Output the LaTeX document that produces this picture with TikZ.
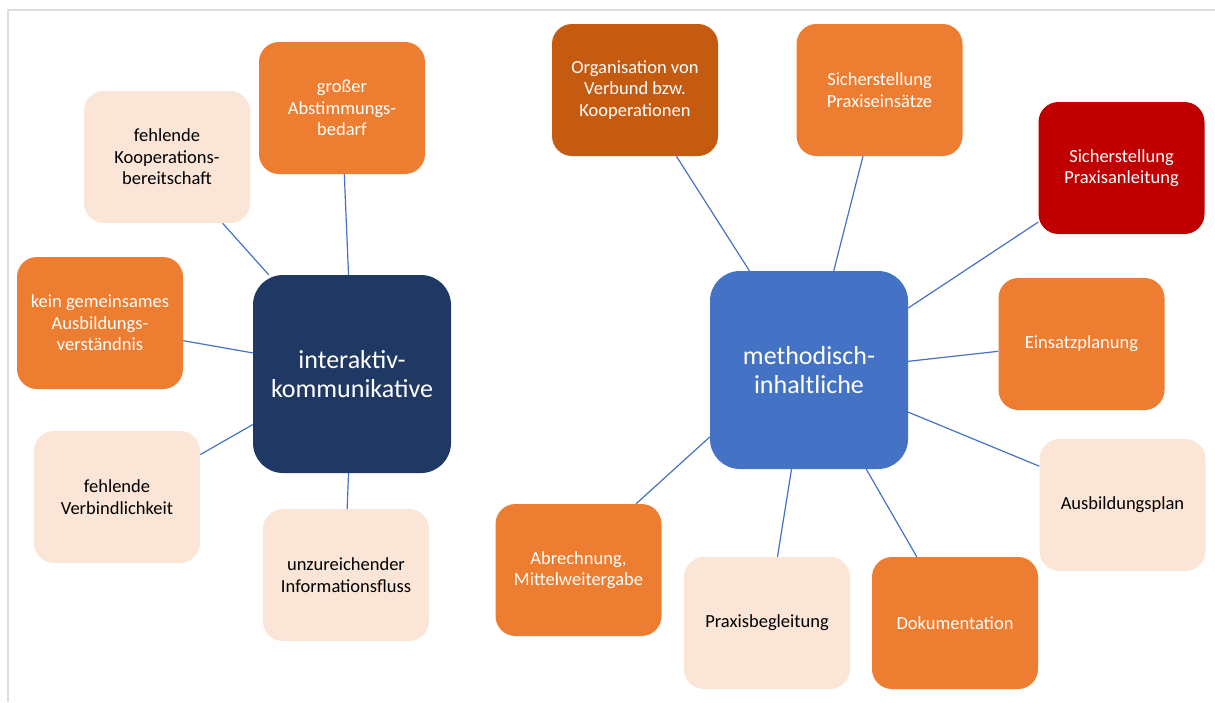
\documentclass[tikz,border=0pt]{standalone}
\usepackage{fontspec}
\setmainfont{Carlito}
\usetikzlibrary{backgrounds}
\definecolor{orng}{HTML}{ED7D31}
\definecolor{lght}{HTML}{FBE5D6}
\definecolor{dorng}{HTML}{C55A11}
\definecolor{rd}{HTML}{C00000}
\definecolor{navy}{HTML}{203864}
\definecolor{blu}{HTML}{4472C4}
\definecolor{frm}{HTML}{DEDEDE}
\tikzset{
  box/.style={rounded corners=20pt, minimum width=166pt, minimum height=132pt, inner sep=0pt,
    align=center, font=\fontsize{18.5pt}{21.5pt}\selectfont},
  orbox/.style={box, fill=orng, text=white},
  ltbox/.style={box, fill=lght, text=black},
  hub/.style={rounded corners=30pt, minimum width=198pt, minimum height=198pt, inner sep=0pt,
    align=center, text=white, font=\fontsize{26pt}{29pt}\selectfont},
  link/.style={draw=blu, line width=1.2pt}
}
\begin{document}
\begin{tikzpicture}[x=1pt,y=-1pt]
\useasboundingbox (0,0) rectangle (1215,702);
\draw[frm, line width=2pt] (8,702) -- (8,10) -- (1215,10);
% left cluster
\node[hub, fill=navy] (L) at (352,374) {interaktiv-\\kommunikative};
\node[orbox] (G) at (342,108) {großer\\Abstimmungs-\\bedarf};
\node[ltbox] (K) at (167,157) {fehlende\\Kooperations-\\bereitschaft};
\node[orbox] (A) at (100,323) {kein gemeinsames\\Ausbildungs-\\verständnis};
\node[ltbox] (V) at (117,497) {fehlende\\Verbindlichkeit};
\node[ltbox] (U) at (346,575) {unzureichender\\Informationsfluss};
% right cluster
\node[hub, fill=blu] (R) at (809,370) {methodisch-\\inhaltliche};
\node[box, fill=dorng, text=white] (O) at (635,90) {Organisation von\\Verbund bzw.\\Kooperationen};
\node[orbox] (P) at (879.5,90) {Sicherstellung\\Praxiseinsätze};
\node[box, fill=rd, text=white] (PA) at (1121.5,168) {Sicherstellung\\Praxisanleitung};
\node[orbox] (E) at (1081.5,344) {Einsatzplanung};
\node[ltbox] (AP) at (1122.5,505) {Ausbildungsplan};
\node[orbox] (D) at (955,623) {Dokumentation};
\node[ltbox] (PB) at (767,623) {Praxisbegleitung};
\node[orbox] (AB) at (578.5,570) {Abrechnung,\\Mittelweitergabe};
\begin{scope}[on background layer]
\draw[link] (L.92.3) -- (G.272.5);
\draw[link] (L.130.3) -- (K.310.5);
\draw[link] (L.168.7) -- (A.348);
\draw[link] (L.207.5) -- (V.27.9);
\draw[link] (L.268.3) -- (U.89.2);
\draw[link] (R.121.8) -- (O.302.3);
\draw[link] (R.76) -- (P.256.4);
\draw[link] (R.32.6) -- (PA.213.5);
\draw[link] (R.5.7) -- (E.185.5);
\draw[link] (R.337.2) -- (AP.155.3);
\draw[link] (R.300.1) -- (D.120.8);
\draw[link] (R.260.4) -- (PB.81.5);
\draw[link] (R.214) -- (AB.49.2);
\end{scope}
\end{tikzpicture}
\end{document}
